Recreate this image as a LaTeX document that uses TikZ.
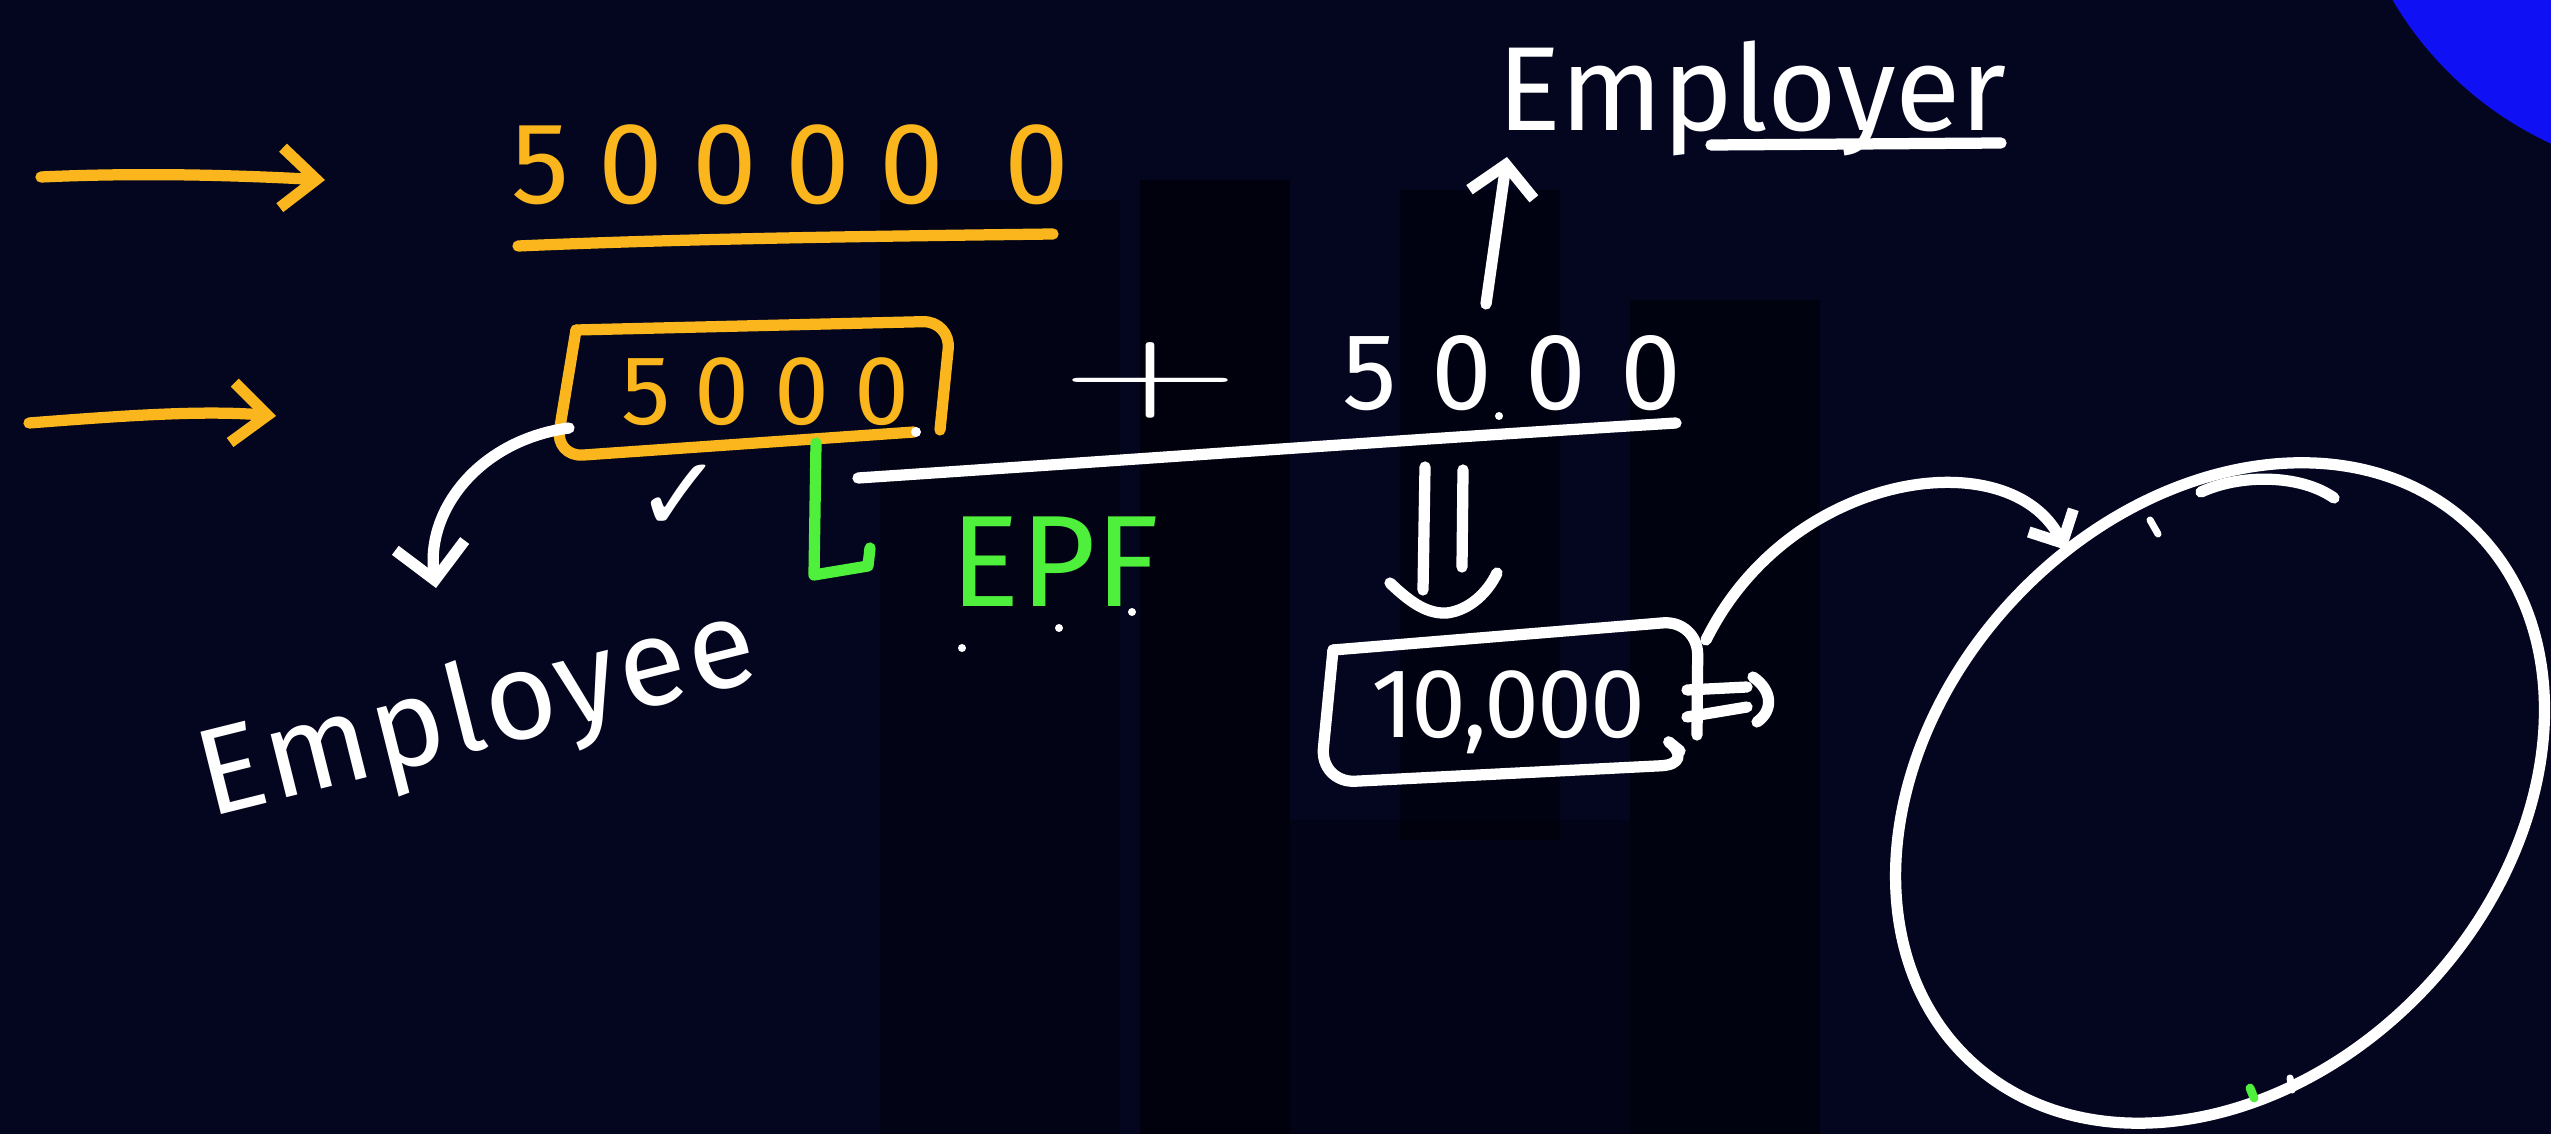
\documentclass[tikz,border=0pt]{standalone}
\usepackage{fontspec}
\setmainfont{Fira Sans}
\newfontfamily\symfont{DejaVu Sans}
\newfontfamily\lmfont{Latin Modern Roman}
\usetikzlibrary{arrows.meta}
\definecolor{bg}{RGB}{4,6,32}
\definecolor{darkbg}{RGB}{0,0,6}
\definecolor{mark}{RGB}{250,182,28}
\definecolor{grn}{RGB}{78,240,60}
\definecolor{blu}{RGB}{16,16,245}
\begin{document}
\begin{tikzpicture}[x=0.01cm,y=-0.01cm,
  pen/.style={line width=3.2pt,line cap=round,line join=round},
  wpen/.style={pen,draw=white},
  open/.style={pen,draw=mark},
  gpen/.style={pen,draw=grn},
  barb/.style={-{Straight Barb[length=3.5mm,width=6mm]}},
  hand/.style={inner sep=0pt,outer sep=0pt},
  wtext/.style={hand,text=white},
  otext/.style={hand,text=mark},
  gtext/.style={hand,text=grn}]
\useasboundingbox (0,0) rectangle (2551,1134);
\clip (0,0) rectangle (2551,1134);
\fill[bg] (0,0) rectangle (2551,1134);
% faint watermark
\fill[darkbg,opacity=0.45] (880,200) rectangle (1120,1134);
\fill[darkbg,opacity=0.7] (1140,180) rectangle (1290,1134);
\fill[darkbg,opacity=0.55] (1400,190) rectangle (1560,840);
\fill[darkbg,opacity=0.65] (1630,300) rectangle (1820,1134);
\fill[darkbg,opacity=0.35] (1290,820) rectangle (1630,1134);
% blue corner
\fill[blu] (2700,-180) circle [radius=3.56cm];

% orange arrows
\coordinate (a1s) at (41,177);
\coordinate (a1e) at (325,180);
\coordinate (a2s) at (29,423);
\coordinate (a2e) at (276,416);
\draw[open,barb] (a1s) .. controls (150,172) and (250,176) .. (a1e);
\draw[open,barb] (a2s) .. controls (120,416) and (200,410) .. (a2e);

% 50000 0
\node[otext,font=\fontsize{33pt}{40pt}\selectfont\addfontfeatures{LetterSpace=25}] (big) at (790,165) {50000 0};
\coordinate (ulA) at (518,246);
\coordinate (ulB) at (1053,234);
\draw[open] (ulA) .. controls (700,238) and (900,236) .. (ulB);

% boxed 5000 (employee)
\node[otext,font=\fontsize{28pt}{34pt}\selectfont\addfontfeatures{LetterSpace=25}] (emp) at (765,392) {5000};
\coordinate (obTL) at (576,330);
\coordinate (obTR) at (951,321);
\coordinate (obBR) at (940,430);
\coordinate (obBL) at (555,457);
\draw[open,rounded corners=8] (obTL) -- (obTR) -- (obBR);
\draw[open,rounded corners=8] (914,432) -- (obBL) -- (obTL);
\fill[white] (916,432) circle [radius=5];

% plus
\node[wtext,font=\lmfont\fontsize{44pt}{52pt}\selectfont,xscale=1.6,yscale=0.78] (plus) at (1151,380) {+};

% white 5000 (employer)
\node[wtext,font=\fontsize{31pt}{37pt}\selectfont\addfontfeatures{LetterSpace=31}] (er5) at (1512,373) {5000};
\fill[white] (1499,416) circle [radius=4];
\coordinate (lnA) at (858,478);
\coordinate (lnB) at (1676,423);
\draw[wpen] (lnA) .. controls (1100,462) and (1400,440) .. (lnB);

% Employer
\node[wtext,font=\fontsize{34pt}{40pt}\selectfont] (employer) at (1752,98) {Employer};
\draw[wpen] (1711,145) -- (2001,143);
\coordinate (upS) at (1486,304);
\coordinate (upE) at (1507,157);
\draw[wpen,-{Straight Barb[length=3mm,width=6.5mm]}] (upS) -- (upE);

% Employee
\node[wtext,font=\fontsize{35pt}{42pt}\selectfont\addfontfeatures{LetterSpace=3},rotate=14] (employee) at (478,716) {Employee};
\coordinate (eaS) at (569,428);
\coordinate (eaE) at (436,588);
\draw[wpen,-{Straight Barb[length=3.5mm,width=7mm]}] (eaS) .. controls (480,440) and (425,510) .. (eaE);

% check mark
\node[wtext,font=\symfont\fontsize{30pt}{36pt}\selectfont] (tick) at (680,498) {✓};

% green L and EPF
\draw[gpen] (816,443) -- (814,575) -- (868,566) -- (870,548);
\node[gtext,font=\fontsize{37pt}{44pt}\selectfont] (epf) at (1055,562) {EPF};
\fill[white] (962,648) circle [radius=4];
\fill[white] (1059,628) circle [radius=4];
\fill[white] (1132,612) circle [radius=4];

% double down arrow
\coordinate (dd1s) at (1425,467);
\coordinate (dd1e) at (1423,590);
\coordinate (dd2s) at (1463,470);
\coordinate (dd2e) at (1462,567);
\draw[wpen] (dd1s) -- (dd1e);
\draw[wpen] (dd2s) -- (dd2e);
\draw[wpen] (1390,583) .. controls (1412,604) and (1428,614) .. (1447,613) .. controls (1470,610) and (1488,592) .. (1497,573);

% 10,000 box
\node[wtext,font=\fontsize{28pt}{34pt}\selectfont\addfontfeatures{LetterSpace=-2}] (tenk) at (1508,712) {10,000};
\coordinate (tkTL) at (1333,650);
\coordinate (tkTR) at (1698,620);
\coordinate (tkBR) at (1696,764);
\coordinate (tkBL) at (1320,783);
\draw[wpen,rounded corners=10] (tkTL) -- (tkTR) -- (1697,735);
\draw[wpen,rounded corners=10] (1680,751) -- (tkBR) -- (tkBL) -- (tkTL);
% =) sign
\draw[wpen] (1687,690) -- (1747,687);
\draw[wpen] (1687,717) -- (1747,707);
\draw[wpen] (1753,677) .. controls (1772,690) and (1774,710) .. (1757,722);

% big ellipse
\coordinate (ec) at (2220,793);
\draw[wpen,rotate around={47:(ec)}] (ec) ellipse [x radius=3.66cm,y radius=2.83cm];
\draw[wpen] (2201,492) .. controls (2240,474) and (2300,474) .. (2334,498);
\draw[white,line width=2pt,line cap=round] (2150,520) -- (2158,534);
\draw[grn,line width=2.5pt,line cap=round] (2250,1088) -- (2254,1098);
\draw[white,line width=2pt,line cap=round] (2290,1078) -- (2292,1090);

% connector from 10,000 to ellipse
\coordinate (cS) at (1706,640);
\coordinate (cE) at (2066,550);
\draw[wpen,-{Straight Barb[length=2.5mm,width=5mm]}] (cS) .. controls (1790,470) and (2010,440) .. (cE);
\end{tikzpicture}
\end{document}
